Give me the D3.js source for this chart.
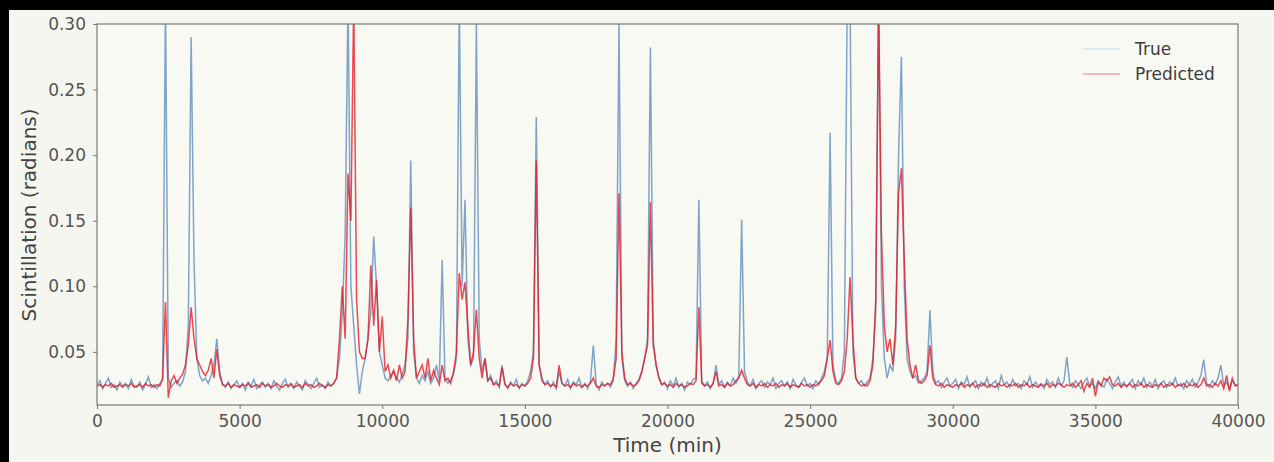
<!DOCTYPE html>
<html>
<head>
<meta charset="utf-8">
<script src="https://cdn.jsdelivr.net/npm/d3@7"></script>
<style>
  body { margin: 0; background: #000; }
  svg { display: block; font-family: "DejaVu Sans", sans-serif; }
</style>
</head>
<body>
<svg></svg>
<script>
const timeStep = 100;

const trueVals = [
  0.024,0.028,0.022,0.026,0.030,0.023,0.025,0.021,0.027,0.024,
  0.026,0.022,0.029,0.024,0.023,0.027,0.021,0.025,0.031,0.023,
  0.025,0.022,0.026,0.028,0.320,0.030,0.023,0.026,0.028,0.024,
  0.027,0.035,0.070,0.290,0.120,0.045,0.032,0.028,0.030,0.026,
  0.032,0.040,0.060,0.035,0.026,0.023,0.027,0.022,0.025,0.028,
  0.023,0.026,0.021,0.027,0.024,0.029,0.022,0.025,0.027,0.023,
  0.026,0.022,0.028,0.024,0.021,0.026,0.029,0.023,0.025,0.022,
  0.027,0.024,0.021,0.028,0.025,0.022,0.026,0.030,0.023,0.025,
  0.022,0.027,0.024,0.026,0.030,0.045,0.080,0.140,0.320,0.100,
  0.070,0.040,0.018,0.035,0.045,0.060,0.080,0.138,0.100,0.050,
  0.040,0.030,0.028,0.032,0.035,0.030,0.027,0.033,0.040,0.060,
  0.196,0.050,0.030,0.026,0.032,0.028,0.035,0.026,0.030,0.040,
  0.028,0.120,0.030,0.026,0.029,0.033,0.045,0.320,0.100,0.166,
  0.060,0.040,0.045,0.300,0.060,0.035,0.045,0.028,0.032,0.025,
  0.028,0.023,0.040,0.026,0.022,0.027,0.024,0.029,0.022,0.026,
  0.024,0.028,0.035,0.050,0.229,0.040,0.030,0.025,0.028,0.023,
  0.027,0.022,0.035,0.026,0.024,0.029,0.022,0.027,0.025,0.030,
  0.023,0.026,0.022,0.028,0.055,0.025,0.021,0.027,0.024,0.026,
  0.023,0.028,0.060,0.300,0.045,0.028,0.024,0.027,0.022,0.026,
  0.029,0.035,0.045,0.060,0.282,0.060,0.040,0.030,0.025,0.027,
  0.022,0.028,0.024,0.030,0.023,0.026,0.021,0.027,0.025,0.029,
  0.030,0.166,0.028,0.024,0.027,0.022,0.026,0.040,0.025,0.028,
  0.023,0.027,0.024,0.030,0.026,0.032,0.151,0.035,0.027,0.024,
  0.029,0.022,0.026,0.028,0.023,0.027,0.025,0.030,0.022,0.026,
  0.028,0.024,0.027,0.022,0.029,0.025,0.023,0.027,0.030,0.024,
  0.026,0.022,0.028,0.025,0.030,0.035,0.045,0.217,0.040,0.028,
  0.026,0.030,0.050,0.320,0.320,0.050,0.030,0.026,0.028,0.024,
  0.027,0.030,0.045,0.080,0.320,0.100,0.045,0.030,0.040,0.035,
  0.060,0.200,0.275,0.100,0.045,0.035,0.030,0.032,0.026,0.028,
  0.030,0.035,0.082,0.035,0.026,0.028,0.023,0.027,0.030,0.024,
  0.026,0.029,0.022,0.027,0.025,0.031,0.023,0.026,0.028,0.022,
  0.027,0.024,0.030,0.023,0.026,0.028,0.022,0.032,0.025,0.027,
  0.023,0.029,0.024,0.026,0.022,0.028,0.025,0.031,0.023,0.027,
  0.024,0.026,0.022,0.029,0.025,0.027,0.023,0.030,0.024,0.028,
  0.046,0.026,0.023,0.028,0.025,0.022,0.027,0.030,0.024,0.026,
  0.022,0.028,0.025,0.023,0.029,0.026,0.022,0.027,0.031,0.024,
  0.027,0.023,0.026,0.029,0.022,0.028,0.025,0.030,0.023,0.027,
  0.024,0.029,0.022,0.026,0.028,0.023,0.027,0.025,0.030,0.024,
  0.026,0.022,0.028,0.025,0.029,0.023,0.027,0.032,0.044,0.026,
  0.023,0.028,0.025,0.030,0.040,0.024,0.027,0.022,0.028,0.025,
  0.024
];

const predVals = [
  0.024,0.025,0.023,0.025,0.024,0.026,0.023,0.024,0.025,0.023,
  0.025,0.024,0.026,0.023,0.024,0.025,0.023,0.026,0.024,0.025,
  0.023,0.025,0.024,0.030,0.088,0.015,0.028,0.032,0.026,0.030,
  0.033,0.040,0.055,0.084,0.060,0.045,0.040,0.035,0.032,0.036,
  0.045,0.030,0.052,0.032,0.025,0.024,0.026,0.023,0.025,0.024,
  0.023,0.025,0.024,0.026,0.023,0.024,0.025,0.023,0.026,0.024,
  0.025,0.023,0.024,0.026,0.024,0.023,0.025,0.024,0.026,0.023,
  0.024,0.025,0.023,0.026,0.024,0.025,0.023,0.024,0.026,0.024,
  0.023,0.025,0.024,0.026,0.030,0.060,0.100,0.060,0.186,0.150,
  0.320,0.090,0.050,0.045,0.045,0.060,0.116,0.070,0.105,0.050,
  0.077,0.035,0.040,0.030,0.036,0.028,0.040,0.030,0.035,0.075,
  0.160,0.060,0.030,0.035,0.040,0.030,0.045,0.028,0.036,0.030,
  0.025,0.040,0.028,0.030,0.026,0.035,0.050,0.110,0.090,0.103,
  0.070,0.040,0.050,0.082,0.045,0.030,0.045,0.028,0.030,0.025,
  0.026,0.024,0.038,0.025,0.023,0.026,0.024,0.025,0.023,0.025,
  0.024,0.026,0.030,0.045,0.196,0.040,0.028,0.025,0.026,0.024,
  0.025,0.023,0.040,0.026,0.024,0.025,0.023,0.026,0.024,0.025,
  0.023,0.025,0.024,0.026,0.030,0.024,0.023,0.025,0.024,0.026,
  0.025,0.030,0.045,0.171,0.050,0.030,0.025,0.026,0.024,0.025,
  0.028,0.035,0.045,0.055,0.164,0.055,0.040,0.030,0.025,0.026,
  0.024,0.025,0.023,0.026,0.024,0.025,0.023,0.024,0.026,0.025,
  0.028,0.084,0.026,0.024,0.025,0.023,0.026,0.035,0.024,0.025,
  0.023,0.026,0.024,0.025,0.028,0.030,0.036,0.030,0.025,0.024,
  0.026,0.023,0.025,0.024,0.026,0.023,0.025,0.024,0.026,0.023,
  0.025,0.024,0.026,0.023,0.025,0.024,0.023,0.026,0.024,0.025,
  0.023,0.025,0.024,0.026,0.028,0.032,0.045,0.059,0.035,0.026,
  0.025,0.028,0.035,0.060,0.107,0.060,0.030,0.026,0.024,0.025,
  0.024,0.028,0.040,0.090,0.320,0.140,0.070,0.050,0.060,0.040,
  0.070,0.171,0.190,0.120,0.060,0.040,0.030,0.040,0.028,0.026,
  0.028,0.032,0.055,0.030,0.025,0.024,0.026,0.023,0.025,0.024,
  0.023,0.025,0.024,0.026,0.023,0.025,0.024,0.026,0.023,0.025,
  0.024,0.026,0.023,0.025,0.024,0.023,0.026,0.024,0.025,0.023,
  0.025,0.024,0.026,0.023,0.025,0.024,0.026,0.023,0.025,0.024,
  0.023,0.025,0.024,0.026,0.023,0.025,0.024,0.026,0.025,0.023,
  0.025,0.024,0.026,0.023,0.025,0.028,0.020,0.026,0.023,0.030,
  0.016,0.027,0.024,0.030,0.028,0.031,0.025,0.024,0.026,0.023,
  0.025,0.024,0.026,0.023,0.025,0.024,0.026,0.023,0.025,0.024,
  0.023,0.025,0.024,0.026,0.023,0.025,0.024,0.026,0.023,0.025,
  0.024,0.026,0.023,0.025,0.024,0.026,0.023,0.025,0.030,0.024,
  0.025,0.023,0.026,0.024,0.028,0.022,0.032,0.020,0.030,0.024,
  0.025
];

const xTicks = [0, 5000, 10000, 15000, 20000, 25000, 30000, 35000, 40000];
const yTicks = [0.05, 0.10, 0.15, 0.20, 0.25, 0.30];
const seriesNames = ["True", "Predicted"];

let width = 1274;
let height = 462;
let plotLeft = 97, plotRight = 1238, plotTop = 24, plotBottom = 405;

const svg = d3.select("svg")
  .attr("width", width)
  .attr("height", height);

// figure background with the black frame at top/left
svg.append("rect").attr("width", width).attr("height", height).attr("fill", "#000");
svg.append("rect")
  .attr("x", 9).attr("y", 10)
  .attr("width", width - 9).attr("height", height - 10)
  .attr("fill", "#f6f6f0");
svg.append("rect")
  .attr("x", plotLeft).attr("y", plotTop)
  .attr("width", plotRight - plotLeft).attr("height", plotBottom - plotTop)
  .attr("fill", "#f9f9f4");

const xScale = d3.scaleLinear().domain([0, 40000]).range([plotLeft, plotRight]);
const yScale = d3.scaleLinear().domain([0.0095, 0.30]).range([plotBottom, plotTop]);

svg.append("clipPath").attr("id", "plot")
  .append("rect")
  .attr("x", plotLeft).attr("y", plotTop)
  .attr("width", plotRight - plotLeft).attr("height", plotBottom - plotTop);

const line = d3.line()
  .x((d, i) => xScale(i * timeStep))
  .y((d) => yScale(d));

svg.append("path")
  .datum(trueVals)
  .attr("clip-path", "url(#plot)")
  .attr("fill", "none")
  .attr("stroke", "#2f6aa8")
  .attr("stroke-opacity", 0.6)
  .attr("stroke-width", 1.5)
  .attr("d", line);

svg.append("path")
  .datum(predVals)
  .attr("clip-path", "url(#plot)")
  .attr("fill", "none")
  .attr("stroke", "#e4101c")
  .attr("stroke-opacity", 0.75)
  .attr("stroke-width", 1.5)
  .attr("d", line);

// axes
const xAxis = d3.axisBottom(xScale).tickValues(xTicks).tickFormat(d3.format("d")).tickSize(4).tickPadding(6);
const yAxis = d3.axisLeft(yScale).tickValues(yTicks).tickFormat(d3.format(".2f")).tickSize(4).tickPadding(7);

svg.append("g")
  .attr("transform", `translate(0, ${plotBottom})`)
  .call(xAxis)
  .call(g => g.select(".domain").remove());

svg.append("g")
  .attr("transform", `translate(${plotLeft}, 0)`)
  .call(yAxis)
  .call(g => g.select(".domain").remove());

svg.selectAll(".tick line").attr("stroke", "#777");
svg.selectAll(".tick text")
  .attr("fill", "#555")
  .style("font-size", "17px")
  .style("font-family", "DejaVu Sans");

// spines
svg.append("rect")
  .attr("x", plotLeft).attr("y", plotTop)
  .attr("width", plotRight - plotLeft).attr("height", plotBottom - plotTop)
  .attr("fill", "none")
  .attr("stroke", "#7a7a7a")
  .attr("stroke-width", 1.2);

svg.append("text")
  .attr("x", (plotLeft + plotRight) / 2)
  .attr("y", 452)
  .attr("text-anchor", "middle")
  .attr("fill", "#444")
  .style("font-size", "20px")
  .text("Time (min)");

svg.append("text")
  .attr("transform", "translate(36, 215) rotate(-90)")
  .attr("text-anchor", "middle")
  .attr("fill", "#444")
  .style("font-size", "20px")
  .text("Scintillation (radians)");

// legend
const legendColors = ["#d3e2ef", "#eaa6ac"];
const legend = svg.append("g");
seriesNames.forEach((name, i) => {
  let y = 49 + i * 25;
  legend.append("line")
    .attr("x1", 1083).attr("x2", 1120)
    .attr("y1", y).attr("y2", y)
    .attr("stroke", legendColors[i])
    .attr("stroke-width", 1.5);
  legend.append("text")
    .attr("x", 1135).attr("y", y)
    .attr("dy", "0.35em")
    .attr("fill", "#3c3c3c")
    .style("font-size", "17px")
    .text(name);
});
</script>
</body>
</html>
